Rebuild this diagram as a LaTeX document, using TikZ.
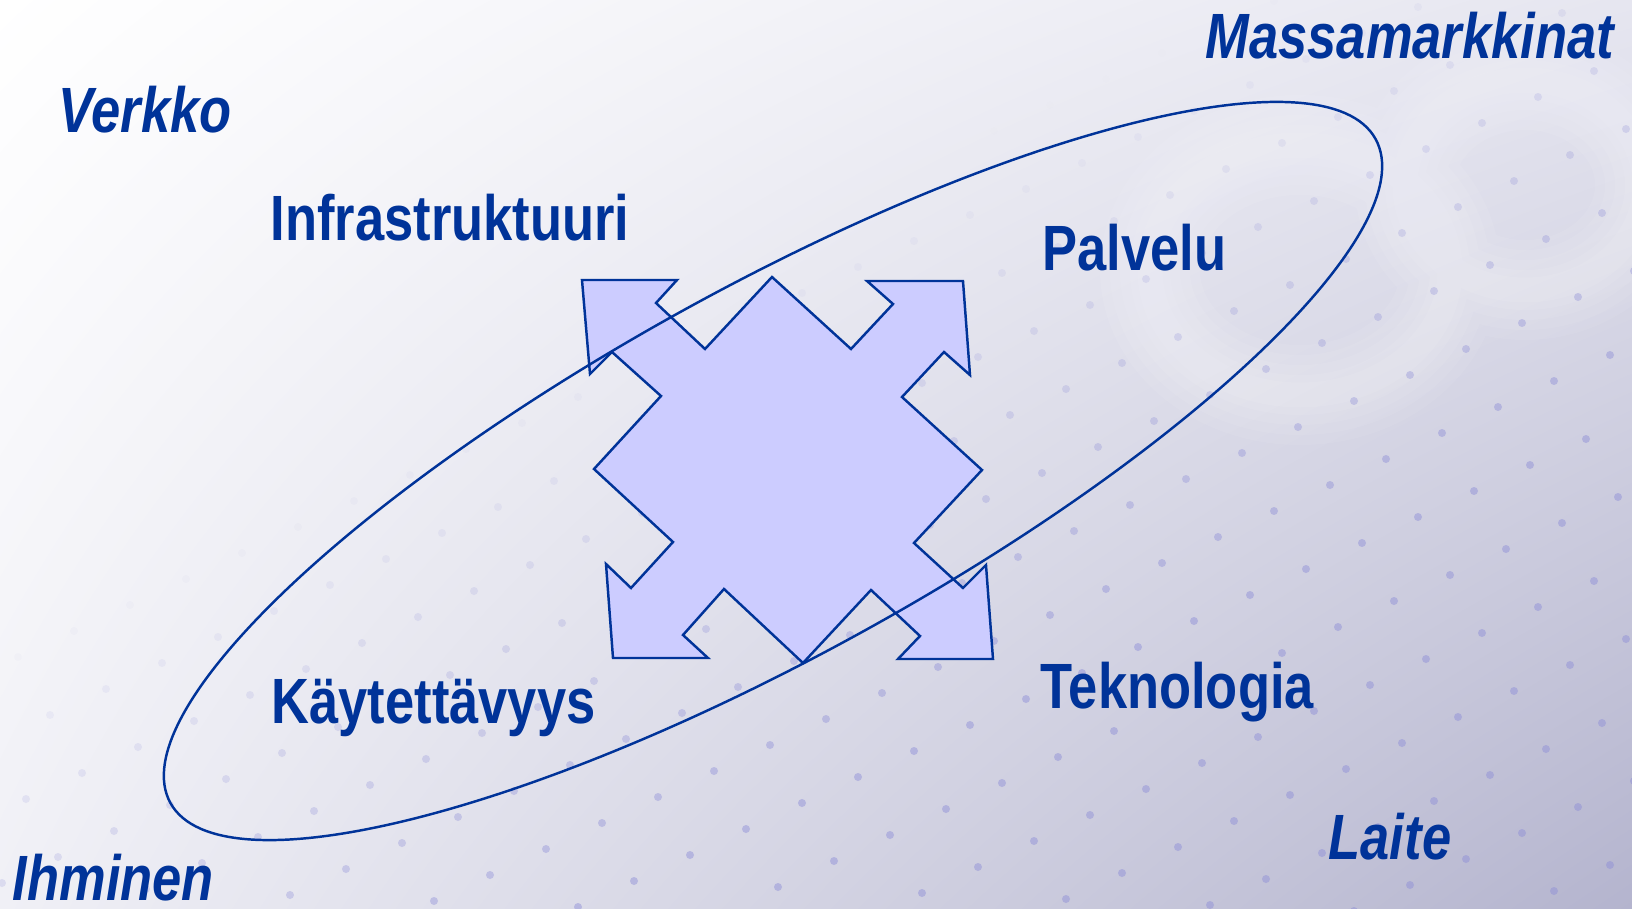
\documentclass[tikz,border=0pt]{standalone}
\usepackage{fontspec}
\usepackage{tikz}
\usetikzlibrary{shadings}
\newfontfamily\narrowsans[FakeStretch=0.82]{Liberation Sans}
\definecolor{mblue}{rgb}{0.0, 0.2, 0.6}
\definecolor{arrowfill}{RGB}{204,204,255}
\definecolor{bgtr}{RGB}{230,230,240}
\definecolor{bgbl}{RGB}{240,240,246}
\definecolor{bgbr}{RGB}{180,180,206}
\definecolor{dotblue}{RGB}{140,140,215}
\tikzset{
  word/.style={anchor=base west, inner sep=0pt, text=mblue,
    font=\narrowsans\fontsize{18.2}{22}\selectfont\bfseries},
  slword/.style={word,
    font=\narrowsans\fontsize{18.2}{22}\selectfont\bfseries\itshape}
}

\begin{document}
\begin{tikzpicture}[x=0.01cm, y=-0.01cm]
    \useasboundingbox (0, 0) rectangle (1632, 909);
    \clip (0, 0) rectangle (1632, 909);
    \shade [upper left=white, upper right=bgtr, lower left=bgbl, lower right=bgbr]
      (0, 0) rectangle (1632, 909);

    % soft light rings
    \foreach \w in {100,80,60,40,25}
      \draw [white, opacity=0.07, line width=\w*0.01cm]
        (1300, 270) ellipse [x radius=150, y radius=125]
        (1525, 185) ellipse [x radius=120, y radius=105];

    % dotted backdrop
    \foreach \i in {-8,...,24}
      \foreach \j in {0,...,23} {
        \pgfmathsetmacro{\px}{56*\i+32*\j+10}
        \pgfmathsetmacro{\py}{-26*\i+58*\j+5}
        \pgfmathsetmacro{\op}{min(0.45,max(0,(0.8*\px+1.6*\py-1000)/2000))}
        \fill [dotblue, opacity=\op] (\px, \py) circle [radius=4];
      }

    \filldraw [fill=arrowfill, draw=mblue, line width=0.7pt]
      (582, 280) -- (677, 280) -- (656, 303) -- (705, 349) -- (772, 277)
      -- (851, 349) -- (893, 304) -- (867, 281) -- (963, 281) -- (970, 375)
      -- (944, 352) -- (902, 397) -- (982, 470) -- (914, 543) -- (963, 588)
      -- (986, 565) -- (993, 659) -- (898, 659) -- (920, 636) -- (871, 590)
      -- (803, 663) -- (724, 589) -- (683, 635) -- (708, 658) -- (613, 658)
      -- (606, 564) -- (631, 588) -- (673, 542) -- (594, 469) -- (661, 396)
      -- (612, 352) -- (590, 374) -- cycle;

    \draw [mblue, line width=0.7pt, rotate around={28.85:(773, 471)}]
      (773, 471) ellipse [x radius=688, y radius=184];

    \node [slword] (massa) at (1205, 58) {Massamarkkinat};
    \node [slword] (verkko) at (58, 133) {Verkko};
    \node [word] (infra) at (270, 240) {Infrastruktuuri};
    \node [word] (palvelu) at (1042, 270) {Palvelu};
    \node [word] (tekno) at (1040, 708) {Teknologia};
    \node [word] (kaytto) at (271, 723) {Käytettävyys};
    \node [slword] (laite) at (1328, 859) {Laite};
    \node [slword] (ihminen) at (12, 900) {Ihminen};
  \end{tikzpicture}
\end{document}
